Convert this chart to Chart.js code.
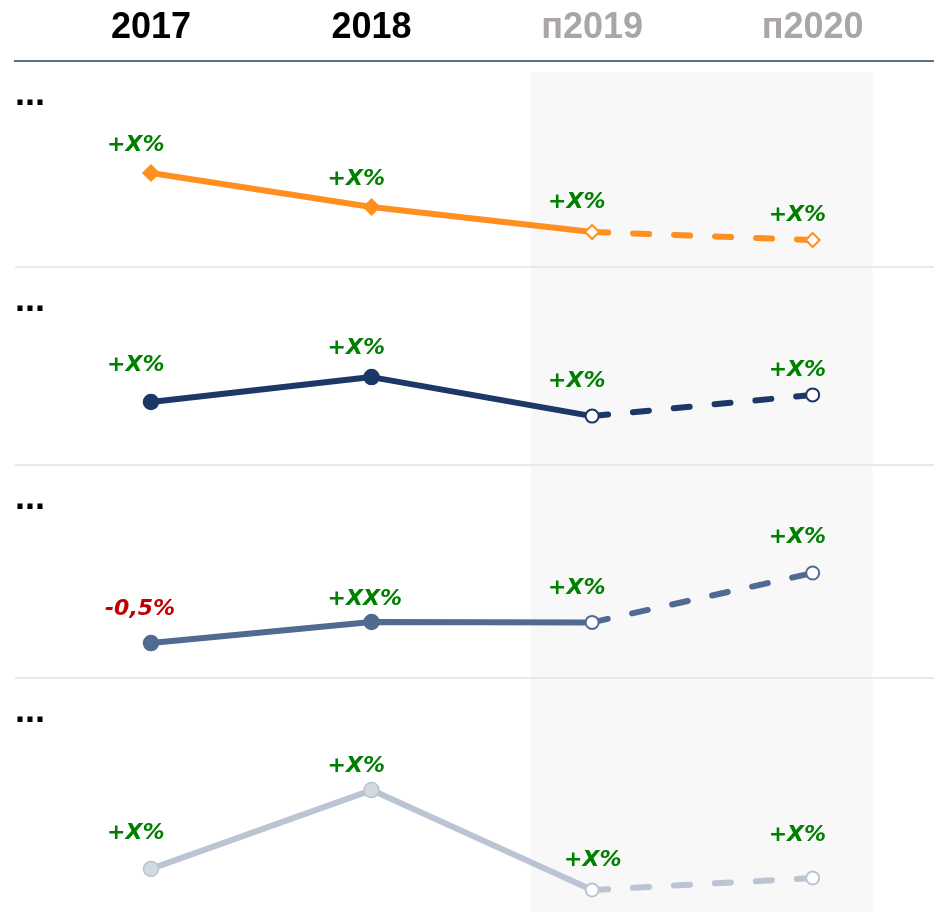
<!DOCTYPE html>
<html><head><meta charset="utf-8">
<script src="https://cdn.jsdelivr.net/npm/chart.js@4.4.1/dist/chart.umd.min.js"></script>
<style>html,body{margin:0;padding:0;background:#fff;} #wrap{width:934px;height:912px;}</style>
</head><body><div id="wrap"><canvas id="c" width="934" height="912"></canvas></div>
<script>
// ---- data ----
const categories = ['2017', '2018', 'п2019', 'п2020'];
const firstForecast = 2;
const seriesA = [45.6, 29.1, 17.0, 13.1];
const seriesB = [31.8, 44.4, 24.7, 35.4];
const seriesC = [16.4, 26.3, 26.1, 49.3];
const seriesD = [18.4, 52.1, 9.4, 14.5];
const labelsA = ['+X%', '+X%', '+X%', '+X%'];
const labelsB = ['+X%', '+X%', '+X%', '+X%'];
const labelsC = ['-0,5%', '+XX%', '+X%', '+X%'];
const labelsD = ['+X%', '+X%', '+X%', '+X%'];
const panelTitles = ['...', '...', '...', '...'];

// ---- styling ----
const colors = ['#ff8f1f', '#1c3866', '#506a92', '#bac4d3'];
const fills = ['#ff8f1f', '#1c3866', '#506a92', '#d3d9e3'];
const allSeries = [seriesA, seriesB, seriesC, seriesD];
const allLabels = [labelsA, labelsB, labelsC, labelsD];
const panelWeights = [206, 198, 213, 234];
const labelDy = [[-28, -28, -30, -25], [-37, -29, -35, -25], [-34, -23, -34, -36], [-36, -24, -30, -43]];
const labelDx = [[-44, -44, -44, -44], [-44, -44, -44, -44], [-46, -44, -44, -44], [-44, -44, -28, -44]];

const datasets = allSeries.map((vals, s) => ({
  data: vals.map((v, i) => ({x: i, y: v})),
  yAxisID: 'y' + (s + 1),
  borderColor: colors[s],
  borderWidth: 6,
  borderCapStyle: 'round',
  borderJoinStyle: 'round',
  tension: 0,
  clip: false,
  pointStyle: s === 0 ? 'rectRot' : 'circle',
  pointRadius: vals.map((v, i) => s === 0 ? (i >= firstForecast ? 7 : 8) : (i >= firstForecast ? 6.5 : 7.5)),
  pointBorderWidth: vals.map((v, i) => i >= firstForecast ? 2 : 1.5),
  pointBackgroundColor: vals.map((v, i) => i >= firstForecast ? '#ffffff' : fills[s]),
  pointBorderColor: colors[s],
  pointHoverRadius: 7,
  segment: {
    borderDash: ctx => ctx.p0DataIndex >= firstForecast ? [16, 25] : undefined
  }
}));

const yScales = {};
panelWeights.forEach((w, s) => {
  yScales['y' + (s + 1)] = {
    type: 'linear', position: 'left', stack: 'panels', stackWeight: w, weight: 10 - s,
    min: 0, max: 100,
    ticks: {display: false}, grid: {display: false, drawTicks: false}, border: {display: false}
  };
});

const decor = {
  id: 'decor',
  beforeDraw(chart) {
    const ctx = chart.ctx, x = chart.scales.x, area = chart.chartArea;
    ctx.save();
    // forecast shading
    const x0 = x.getPixelForValue(firstForecast) - 61;
    const x1 = x.getPixelForValue(categories.length - 1) + 60;
    ctx.fillStyle = '#f8f8f8';
    ctx.fillRect(x0, area.top + 11, x1 - x0, area.bottom - area.top - 11);
    // separators
    ctx.strokeStyle = '#e7e9f0';
    ctx.lineWidth = 2;
    for (let s = 2; s <= 4; s++) {
      const yy = Math.round(chart.scales['y' + s].top);
      ctx.beginPath(); ctx.moveTo(area.left, yy); ctx.lineTo(chart.width, yy); ctx.stroke();
    }
    // panel titles
    ctx.fillStyle = '#000';
    ctx.font = 'bold 36px "Liberation Sans", Arial, sans-serif';
    ctx.textBaseline = 'alphabetic';
    ctx.textAlign = 'left';
    for (let s = 1; s <= 4; s++) {
      ctx.fillText(panelTitles[s - 1], 15, chart.scales['y' + s].top + 44);
    }
    ctx.restore();
  },
  afterDatasetsDraw(chart) {
    const ctx = chart.ctx;
    ctx.save();
    ctx.font = 'italic bold 22px "DejaVu Sans", Verdana, sans-serif';
    ctx.textBaseline = 'middle';
    ctx.textAlign = 'left';
    allLabels.forEach((labs, s) => {
      const meta = chart.getDatasetMeta(s);
      labs.forEach((t, i) => {
        const p = meta.data[i];
        ctx.fillStyle = t.startsWith('-') ? '#c00000' : '#008000';
        ctx.fillText(t, p.x + labelDx[s][i], p.y + labelDy[s][i]);
      });
    });
    ctx.restore();
  }
};

new Chart(document.getElementById('c'), {
  type: 'line',
  data: {datasets},
  plugins: [decor],
  options: {
    responsive: false,
    devicePixelRatio: 1,
    animation: false,
    events: [],
    layout: {autoPadding: false, padding: {left: 15, top: -5, right: 0, bottom: 0}},
    plugins: {legend: {display: false}, tooltip: {enabled: false}},
    scales: Object.assign({
      x: {
        type: 'linear', position: 'top',
        min: -0.6165, max: 3.55,
        afterBuildTicks: sc => { sc.ticks = categories.map((c, i) => ({value: i})); },
        ticks: {
          autoSkip: false, maxRotation: 0, padding: 11.4,
          font: {family: '"Liberation Sans", Arial, sans-serif', size: 36, weight: 'bold'},
          color: ctx => ctx.index >= firstForecast ? '#aaa6a6' : '#000000',
          callback: v => categories[v]
        },
        grid: {display: false, drawTicks: false},
        border: {display: true, color: '#5d6f8c', width: 2}
      }
    }, yScales)
  }
});
</script>
</body></html>
